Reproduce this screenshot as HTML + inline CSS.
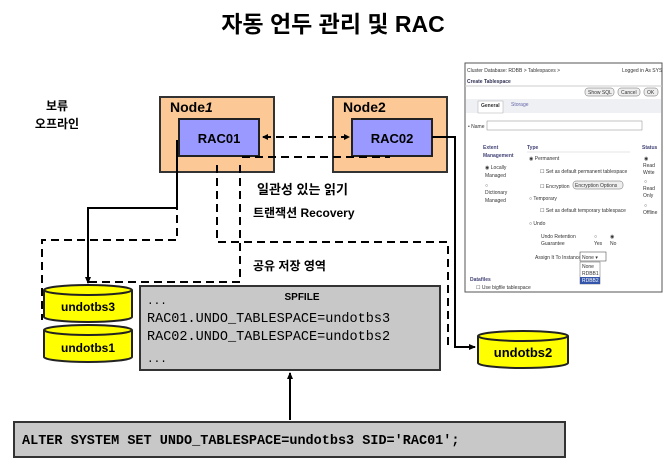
<!DOCTYPE html>
<html><head><meta charset="utf-8"><style>
body{margin:0;background:#fff;width:667px;height:462px;overflow:hidden}
svg{display:block}
.k{font-family:"Liberation Sans","Noto Sans CJK KR",sans-serif;font-weight:bold}
.m{font-family:"Liberation Mono",monospace}
.s{font-family:"Liberation Sans",sans-serif;font-size:5px;fill:#333}
</style></head><body>
<svg width="667" height="462" viewBox="0 0 667 462" xmlns="http://www.w3.org/2000/svg">
<defs><marker id="a" markerUnits="userSpaceOnUse" markerWidth="7" markerHeight="7" refX="6" refY="3.5" orient="auto"><path d="M0,0.5L7,3.5L0,6.5z" fill="#000"/></marker></defs>
<text x="333" y="32" text-anchor="middle" class="k" font-size="23">자동 언두 관리 및 RAC</text>
<text x="57" y="110" text-anchor="middle" class="k" font-size="12">보류</text>
<text x="57" y="128" text-anchor="middle" class="k" font-size="12">오프라인</text>
<rect x="160" y="97" width="114" height="75" fill="#fbc896" stroke="#333" stroke-width="2"/>
<rect x="179" y="119" width="80" height="37" fill="#9999ff" stroke="#222" stroke-width="2"/>
<text x="170" y="112" class="k" font-size="14">Node<tspan font-style="italic">1</tspan></text>
<text x="219" y="143" text-anchor="middle" class="k" font-size="13">RAC01</text>
<rect x="333" y="97" width="114" height="75" fill="#fbc896" stroke="#333" stroke-width="2"/>
<rect x="352" y="119" width="80" height="37" fill="#9999ff" stroke="#222" stroke-width="2"/>
<text x="343" y="112" class="k" font-size="14">Node2</text>
<text x="392" y="143" text-anchor="middle" class="k" font-size="13">RAC02</text>
<g fill="none" stroke="#000" stroke-width="2" stroke-dasharray="8,5">
<line x1="263" y1="137" x2="346" y2="137"/>
<polyline points="242,157 390,157"/>
<polyline points="177,150 177,240 42,240 42,320"/>
<polyline points="217,165 217,242 448,242 448,347"/>
<polyline points="240,165 240,282 88,282"/>
</g>
<path d="M262,137l6,-3v6z M350,137l-6,-3v6z" fill="#000"/>
<polyline points="432,137 455,137 455,347 475,347" fill="none" stroke="#000" stroke-width="2" marker-end="url(#a)"/>
<polyline points="177,140 177,208 88,208 88,283" fill="none" stroke="#000" stroke-width="2" marker-end="url(#a)"/>
<line x1="290" y1="420" x2="290" y2="373" stroke="#000" stroke-width="2" marker-end="url(#a)"/>
<text x="257" y="194" class="k" font-size="13">일관성 있는 읽기</text>
<text x="253" y="217" class="k" font-size="12">트랜잭션 Recovery</text>
<text x="253" y="270" class="k" font-size="12">공유 저장 영역</text>
<g stroke="#222" stroke-width="2" fill="#ffff00">
<path d="M44,290 v27 a44,5 0 0 0 88,0 v-27"/><ellipse cx="88" cy="290" rx="44" ry="5"/>
<path d="M44,330 v27 a44,5 0 0 0 88,0 v-27"/><ellipse cx="88" cy="330" rx="44" ry="5"/>
<path d="M478,336 v27 a45,5 0 0 0 90,0 v-27"/><ellipse cx="523" cy="336" rx="45" ry="5"/>
</g>
<text x="88" y="311" text-anchor="middle" class="k" font-size="12">undotbs3</text>
<text x="88" y="352" text-anchor="middle" class="k" font-size="12">undotbs1</text>
<text x="523" y="357" text-anchor="middle" class="k" font-size="13">undotbs2</text>
<rect x="140" y="286" width="300" height="84" fill="#c8c8c8" stroke="#333" stroke-width="2"/>
<text x="302" y="300" text-anchor="middle" class="k" font-size="10">SPFILE</text>
<text x="147" y="304" class="m" font-size="11">...</text>
<text x="147" y="322" class="m" font-size="13.5">RAC01.UNDO_TABLESPACE=undotbs3</text>
<text x="147" y="340" class="m" font-size="13.5">RAC02.UNDO_TABLESPACE=undotbs2</text>
<text x="147" y="362" class="m" font-size="11">...</text>
<rect x="14" y="422" width="551" height="35" fill="#c8c8c8" stroke="#333" stroke-width="2"/>
<text x="22" y="444" class="m" font-size="13.5" font-weight="bold">ALTER SYSTEM SET UNDO_TABLESPACE=undotbs3 SID='RAC01';</text>
<rect x="465" y="63" width="197" height="229" fill="#fff" stroke="#555" stroke-width="1"/>
<text x="467" y="72" class="s" fill="#4466aa">Cluster Database: RDBB &gt; Tablespaces &gt;</text>
<text x="622" y="72" class="s">Logged in As SYS</text>
<text x="467" y="83" class="s" font-size="6" font-weight="bold" style="fill:#335">Create Tablespace</text>
<line x1="465" y1="86" x2="662" y2="86" stroke="#ccc"/>
<rect x="585" y="88" width="29" height="8" rx="3" fill="#eee" stroke="#666" stroke-width=".5"/><text x="588" y="94" class="s">Show SQL</text>
<rect x="618" y="88" width="22" height="8" rx="3" fill="#eee" stroke="#666" stroke-width=".5"/><text x="621" y="94" class="s">Cancel</text>
<rect x="644" y="88" width="14" height="8" rx="3" fill="#eee" stroke="#666" stroke-width=".5"/><text x="647" y="94" class="s">OK</text>
<rect x="466" y="99" width="195" height="14" fill="#eef0f4"/>
<rect x="478" y="101" width="25" height="12" fill="#fff" stroke="#aaa" stroke-width=".5"/>
<text x="481" y="107" class="s" font-weight="bold">General</text><text x="511" y="106" class="s" style="fill:#66a">Storage</text>
<text x="468" y="128" class="s">• Name</text><rect x="487" y="121" width="155" height="9" fill="#fff" stroke="#888" stroke-width=".5"/>
<text x="483" y="149" class="s" style="fill:#447" font-weight="bold">Extent</text>
<text x="483" y="157" class="s" style="fill:#447" font-weight="bold">Management</text>
<text x="485" y="169" class="s">◉ Locally</text><text x="485" y="177" class="s">Managed</text>
<text x="485" y="187" class="s">○</text><text x="485" y="194" class="s">Dictionary</text><text x="485" y="202" class="s">Managed</text>
<text x="527" y="149" class="s" style="fill:#447" font-weight="bold">Type</text>
<line x1="527" y1="152" x2="630" y2="152" stroke="#ccc" stroke-width=".5"/>
<text x="529" y="160" class="s">◉ Permanent</text>
<text x="540" y="173" class="s">☐ Set as default permanent tablespace</text>
<text x="540" y="188" class="s">☐ Encryption</text>
<rect x="573" y="181" width="50" height="8" rx="3" fill="#eee" stroke="#666" stroke-width=".5"/><text x="575" y="187" class="s">Encryption Options</text>
<text x="529" y="200" class="s">○ Temporary</text>
<text x="540" y="212" class="s">☐ Set as default temporary tablespace</text>
<text x="529" y="225" class="s">○ Undo</text>
<text x="541" y="238" class="s">Undo Retention</text><text x="541" y="245" class="s">Guarantee</text>
<text x="594" y="238" class="s">○</text><text x="594" y="245" class="s">Yes</text>
<text x="610" y="238" class="s">◉</text><text x="610" y="245" class="s">No</text>
<text x="535" y="259" class="s">Assign It To Instance</text>
<rect x="580" y="252" width="26" height="9" fill="#fff" stroke="#333" stroke-width=".5"/><text x="582" y="259" class="s">None ▾</text>
<rect x="580" y="262" width="20" height="22" fill="#fff" stroke="#666" stroke-width=".5"/>
<text x="582" y="268" class="s">None</text><text x="582" y="275" class="s">RDBB1</text>
<rect x="580" y="277" width="20" height="7" fill="#3355aa"/><text x="582" y="282" class="s" style="fill:#fff">RDBB2</text>
<text x="642" y="149" class="s" style="fill:#447" font-weight="bold">Status</text>
<text x="644" y="160" class="s">◉</text><text x="643" y="167" class="s">Read</text><text x="643" y="174" class="s">Write</text>
<text x="644" y="183" class="s">○</text><text x="643" y="190" class="s">Read</text><text x="643" y="197" class="s">Only</text>
<text x="644" y="207" class="s">○</text><text x="643" y="214" class="s">Offline</text>
<text x="470" y="281" class="s" style="fill:#447" font-weight="bold">Datafiles</text>
<text x="476" y="289" class="s">☐ Use bigfile tablespace</text>
</svg>
</body></html>
